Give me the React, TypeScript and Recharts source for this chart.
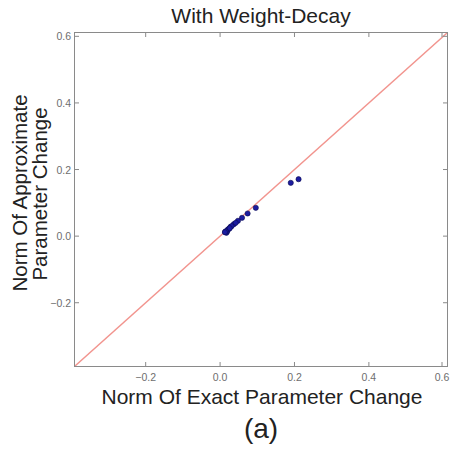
import React from 'react';
import { ScatterChart, Scatter, XAxis, YAxis, ReferenceLine } from 'recharts';

const exactChange = [0.211, 0.19, 0.096, 0.074, 0.059, 0.048, 0.037, 0.028, 0.021, 0.014, 0.017, 0.019, 0.024, 0.031, 0.042, 0.016, 0.013, 0.026];
const approxChange = [0.171, 0.16, 0.085, 0.068, 0.055, 0.046, 0.036, 0.028, 0.02, 0.013, 0.01, 0.014, 0.022, 0.03, 0.04, 0.015, 0.012, 0.024];
const axisTicks = [-0.2, 0, 0.2, 0.4, 0.6];
const axisDomain = [-0.39, 0.61];

const points = exactChange.map((x, i) => ({ x, y: approxChange[i] }));

const fmt = (v: number) => (v < 0 ? '\u2212' : '') + Math.abs(v).toFixed(1);

const FRAME = '#8a8a8a';
const TICK_TEXT = '#6e6e6e';
const font = 'Liberation Sans, Arial, sans-serif';

// plot box: left 75, right 447, top 33, bottom 366
const PLOT_W = 372;
const PLOT_H = 333;

// label plus inward tick marks on the bottom and top edges
const BottomTick = (props: any) => {
  const { x, y, payload } = props;
  const axisY = y - 6;
  return (
    <g>
      <line x1={x} x2={x} y1={axisY} y2={axisY - 4} stroke={FRAME} />
      <line x1={x} x2={x} y1={axisY - PLOT_H} y2={axisY - PLOT_H + 4} stroke={FRAME} />
      <text x={x} y={axisY + 15} textAnchor="middle" fontSize={10.5} fill={TICK_TEXT} fontFamily={font}>
        {fmt(payload.value)}
      </text>
    </g>
  );
};

// label plus inward tick marks on the left and right edges
const LeftTick = (props: any) => {
  const { x, y, payload } = props;
  const axisX = x + 4;
  return (
    <g>
      <line x1={axisX} x2={axisX + 4} y1={y} y2={y} stroke={FRAME} />
      <line x1={axisX + PLOT_W} x2={axisX + PLOT_W - 4} y1={y} y2={y} stroke={FRAME} />
      <text x={axisX - 4} y={y + 4} textAnchor="end" fontSize={10.5} fill={TICK_TEXT} fontFamily={font}>
        {fmt(payload.value)}
      </text>
    </g>
  );
};

const Dot = (props: any) => <circle cx={props.cx} cy={props.cy} r={2.6} fill="#1c1ca0" stroke="#0a0a50" strokeWidth={0.6} />;

export default function App() {
  return (
    <div style={{ position: 'absolute', left: 0, top: 0, width: 452, height: 450, background: '#fff' }}>
      <ScatterChart width={452} height={450} margin={{ top: 33, right: 5, left: 35, bottom: 64 }}>
        <XAxis
          type="number"
          dataKey="x"
          domain={axisDomain}
          ticks={axisTicks}
          allowDataOverflow
          height={20}
          tickSize={0}
          tickMargin={6}
          tickLine={false}
          tick={<BottomTick />}
          axisLine={false}
        />
        <YAxis
          type="number"
          dataKey="y"
          domain={axisDomain}
          ticks={axisTicks}
          allowDataOverflow
          width={40}
          tickSize={0}
          tickMargin={4}
          tickLine={false}
          tick={<LeftTick />}
          axisLine={false}
        />
        <ReferenceLine
          segment={[{ x: axisDomain[0], y: axisDomain[0] }, { x: axisDomain[1], y: axisDomain[1] }]}
          stroke="#f2948e"
          strokeWidth={1.5}
        />
        <Scatter data={points} shape={<Dot />} isAnimationActive={false} />
      </ScatterChart>
      <div
        style={{
          position: 'absolute',
          left: 74,
          top: 32,
          width: PLOT_W + 2,
          height: PLOT_H + 2,
          boxSizing: 'border-box',
          border: `1.5px solid ${FRAME}`,
          pointerEvents: 'none',
        }}
      />
      <svg width={452} height={450} style={{ position: 'absolute', left: 0, top: 0, pointerEvents: 'none' }}>
        <text x={261} y={23} textAnchor="middle" fontSize={21} fill="#222" fontFamily={font}>With Weight-Decay</text>
        <text x={262} y={404} textAnchor="middle" fontSize={21} fill="#222" fontFamily={font}>Norm Of Exact Parameter Change</text>
        <text x={261} y={438} textAnchor="middle" fontSize={28} fill="#222" fontFamily={font}>(a)</text>
        <text transform="translate(27,193) rotate(-90)" textAnchor="middle" fontSize={20.5} fill="#222" fontFamily={font}>Norm Of Approximate</text>
        <text transform="translate(47,194) rotate(-90)" textAnchor="middle" fontSize={20.5} fill="#222" fontFamily={font}>Parameter Change</text>
      </svg>
    </div>
  );
}
